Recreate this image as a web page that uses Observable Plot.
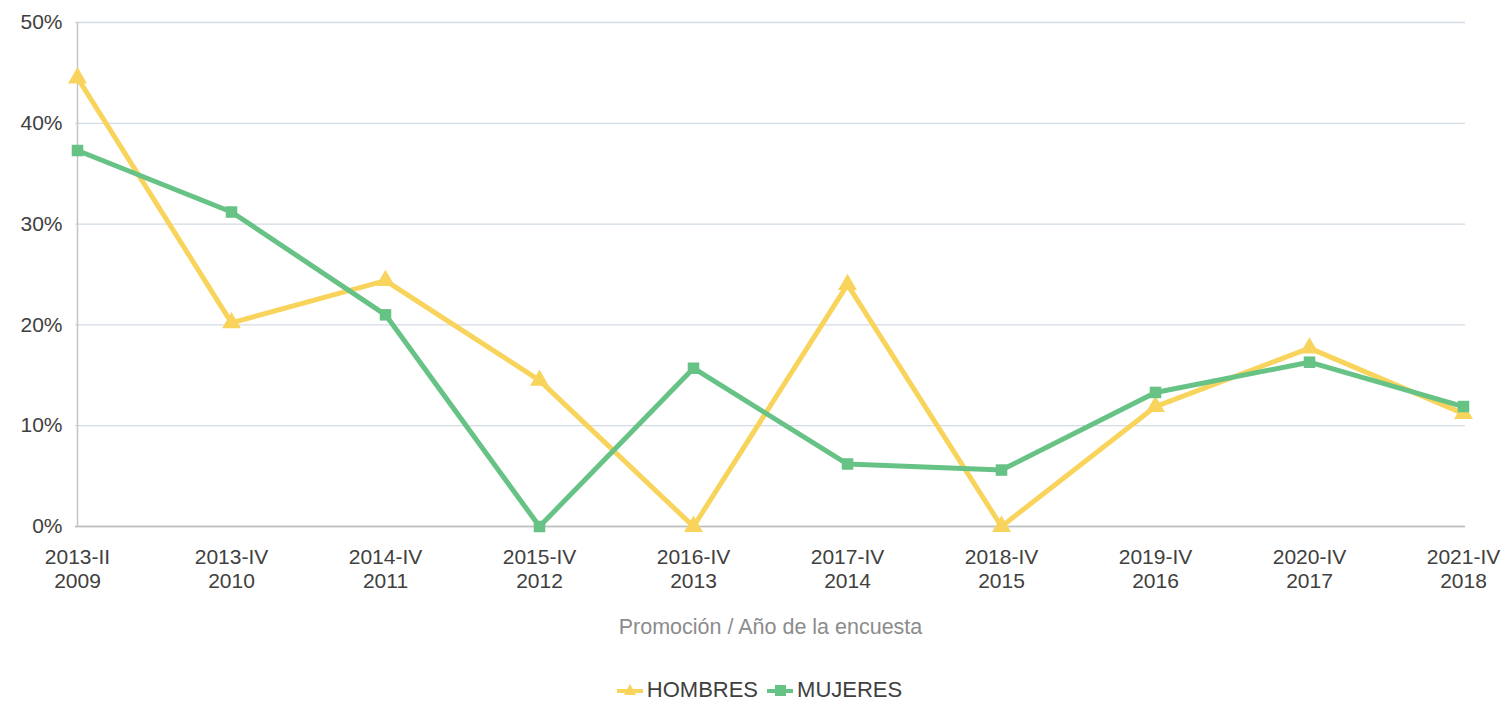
<!DOCTYPE html>
<html><head><meta charset="utf-8">
<script src="https://cdn.jsdelivr.net/npm/d3@7"></script>
<script src="https://cdn.jsdelivr.net/npm/@observablehq/plot@0.6"></script>
<style>
body{margin:0;background:#fff;font-family:"Liberation Sans",Arial,sans-serif;}
#legend{height:59px;display:flex;justify-content:center;align-items:center;gap:8px;font-size:22px;color:#404040;padding-left:12px;padding-top:20px;box-sizing:border-box;}
#legend span{display:inline-flex;align-items:center;}
</style></head><body>
<div id="chart"></div>
<div id="legend"></div>
<script>
const promociones = ["2013-II","2013-IV","2014-IV","2015-IV","2016-IV","2017-IV","2018-IV","2019-IV","2020-IV","2021-IV"];
const anios = ["2009","2010","2011","2012","2013","2014","2015","2016","2017","2018"];
const hombres = [44.5,20.2,24.4,14.5,0,24.0,0,11.9,17.7,11.2];
const mujeres = [37.3,31.2,21.0,0,15.7,6.2,5.6,13.3,16.3,11.9];
const yTicks = [0,10,20,30,40,50];

const colH = "#f9d45c", colM = "#66c285";
const data = [];
promociones.forEach((p,i)=>{
  data.push({p, v:hombres[i], s:"HOMBRES"});
  data.push({p, v:mujeres[i], s:"MUJERES"});
});
const H = data.filter(d=>d.s==="HOMBRES"), M = data.filter(d=>d.s==="MUJERES");

const chart = Plot.plot({
  width:1506, height:650,
  marginLeft:75, marginRight:41, marginTop:22, marginBottom:124,
  style:{fontFamily:"'Liberation Sans', Arial, sans-serif", background:"#fff"},
  x:{type:"point", domain:promociones, padding:0},
  y:{domain:[0,50]},
  marks:[
    Plot.gridY(yTicks,{stroke:"#d3dbe4", strokeOpacity:1, strokeWidth:1.3}),
    Plot.ruleY([0],{stroke:"#bdbdbd", strokeWidth:1.5}),
    Plot.ruleX([promociones[0]],{y1:0,y2:50,stroke:"#c4c4c4",strokeWidth:1.5}),
    Plot.axisY(yTicks,{tickSize:0, tickPadding:13, fontSize:21, fill:"#404040", tickFormat:d=>d+"%", label:null}),
    Plot.axisX({tickSize:0, tickPadding:20, fontSize:21, fill:"#404040", lineHeight:1.15,
      tickFormat:(d,i)=>d+"\n"+anios[promociones.indexOf(d)], label:null}),
    Plot.text(["Promoción / Año de la encuesta"],{frameAnchor:"bottom", dy:107, fontSize:21.5, fill:"#8c8c8c"}),
    Plot.line(H,{x:"p",y:"v",stroke:colH,strokeWidth:5}),
    Plot.line(M,{x:"p",y:"v",stroke:colM,strokeWidth:5}),
    Plot.dot(H,{x:"p",y:"v",symbol:"triangle",r:7,fill:colH}),
    Plot.dot(M,{x:"p",y:"v",symbol:"square",r:6.5,fill:colM})
  ]
});
document.getElementById("chart").appendChild(chart);

const legend = document.getElementById("legend");
[["HOMBRES",colH,"tri"],["MUJERES",colM,"sq"]].forEach(([name,c,sh])=>{
  const sp = document.createElement("span");
  const mk = sh==="tri" ? `<path d="M14 2 L20 13 L8 13 Z" fill="${c}"/>` : `<rect x="9" y="3" width="11" height="11" fill="${c}"/>`;
  sp.innerHTML = `<svg width="28" height="16"><line x1="1" y1="9" x2="27" y2="9" stroke="${c}" stroke-width="4"/>${mk}</svg><span style="margin-left:3px">${name}</span>`;
  legend.appendChild(sp);
});
</script>
</body></html>
